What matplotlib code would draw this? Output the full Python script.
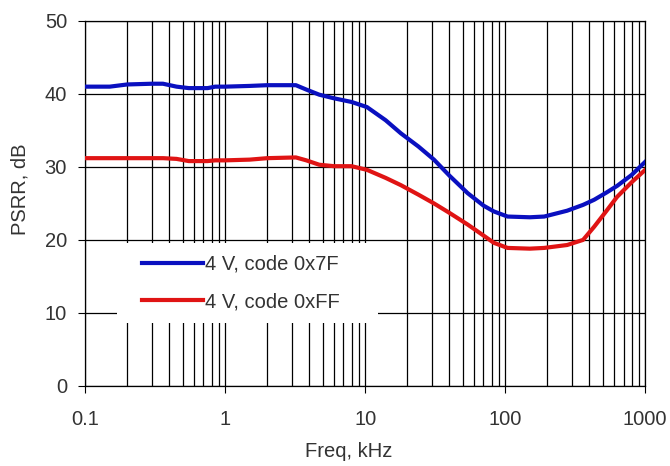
import numpy as np
from matplotlib import pyplot as plt
from matplotlib.patches import Rectangle

plt.rcParams['font.family'] = ['Liberation Sans', 'DejaVu Sans']

# frequency points, kHz
freq = [0.1, 0.15, 0.2, 0.3, 0.36, 0.45, 0.55, 0.75, 0.85, 1.0, 1.5, 2.0, 3.2,
        3.8, 4.7, 6.0, 8.0, 10.3, 14, 18, 24, 31, 40, 54, 70, 83, 104, 150, 190,
        277, 360, 432, 530, 630, 800, 1000]
psrr_7f = [41.0, 41.0, 41.3, 41.4, 41.4, 41.0, 40.8, 40.8, 41.0, 41.0, 41.1, 41.2, 41.2,
           40.6, 39.9, 39.4, 38.9, 38.2, 36.4, 34.6, 32.8, 31.0, 28.8, 26.4, 24.7, 23.9, 23.2, 23.1, 23.2,
           24.0, 24.8, 25.5, 26.5, 27.4, 28.9, 30.7]
psrr_ff = [31.2, 31.2, 31.2, 31.2, 31.2, 31.1, 30.8, 30.8, 30.9, 30.9, 31.0, 31.2, 31.3,
           30.9, 30.3, 30.1, 30.1, 29.6, 28.5, 27.5, 26.2, 25.0, 23.7, 22.1, 20.6, 19.6, 18.9, 18.8, 18.9,
           19.3, 20.0, 21.8, 24.0, 25.9, 27.9, 29.6]

labels = ["4 V, code 0x7F", "4 V, code 0xFF"]
colors = ["#0a10c0", "#e01414"]
fs = 14.5

fig, ax = plt.subplots(figsize=(6.7, 4.66), dpi=100)
fig.subplots_adjust(left=0.127, right=0.963, top=0.955, bottom=0.172)

ax.plot(freq, psrr_7f, color=colors[0], lw=3, label=labels[0], zorder=3)
ax.plot(freq, psrr_ff, color=colors[1], lw=3, label=labels[1], zorder=3)

ax.set_xscale("log")
ax.set_xlim(0.1, 1000)
ax.set_ylim(0, 50)
ax.set_xticks([0.1, 1, 10, 100, 1000])
ax.set_xticklabels(["0.1", "1", "10", "100", "1000"])
ax.set_yticks(range(0, 51, 10))
ax.tick_params(axis="both", which="major", labelsize=fs, labelcolor="#333333",
               direction="out", length=5, width=0.8, color="black", pad=8)
ax.tick_params(axis="x", which="major", pad=12.5)
ax.tick_params(axis="x", which="minor", length=0)

ax.grid(True, which="major", axis="both", color="black", lw=0.9)
ax.grid(True, which="minor", axis="x", color="black", lw=0.9)
ax.set_axisbelow(True)
for s in ax.spines.values():
    s.set_color("black")
    s.set_linewidth(0.9)

ax.set_xlabel("Freq, kHz", fontsize=fs, color="#333333")
ax.set_ylabel("PSRR, dB", fontsize=fs, color="#333333")
ax.xaxis.set_label_coords(0.47, -0.153)
ax.yaxis.set_label_coords(-0.1, 0.54)

# white box behind the legend, hides the grid there
ax.add_patch(Rectangle((0.057, 0.173), 0.466, 0.219, transform=ax.transAxes,
                       facecolor="white", edgecolor="none", zorder=4))
leg = ax.legend(loc="center left", bbox_to_anchor=(0.102, 0.282), fontsize=fs,
                frameon=False, handlelength=3.0, handletextpad=0.1,
                borderpad=0, labelspacing=0.9, borderaxespad=0)
leg.set_zorder(5)
for t in leg.get_texts():
    t.set_color("#333333")

fig.savefig("out.png")
